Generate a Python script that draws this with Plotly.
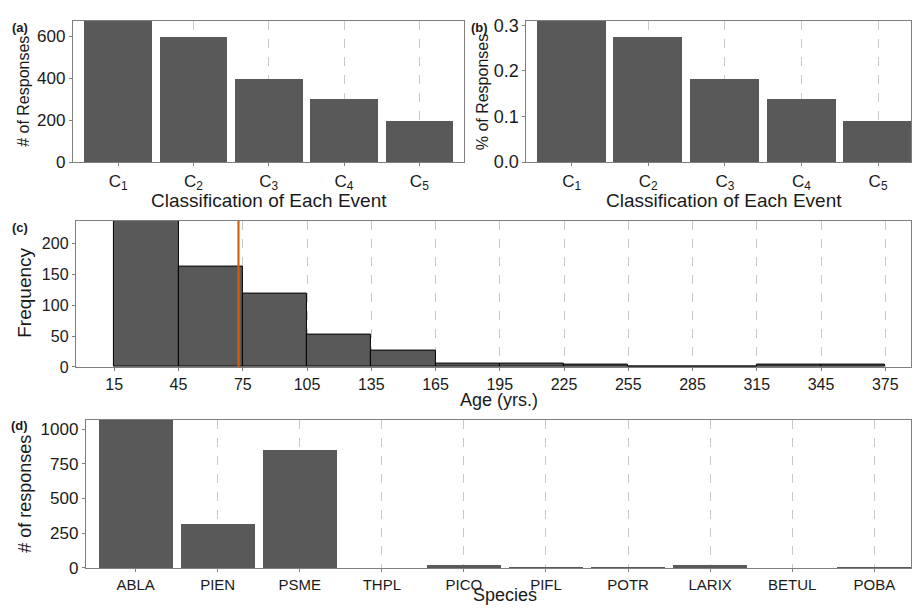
import plotly.graph_objects as go

# ---------------- data ----------------
classes = ["C1", "C2", "C3", "C4", "C5"]
class_labels = ["C<sub>1</sub>", "C<sub>2</sub>", "C<sub>3</sub>", "C<sub>4</sub>", "C<sub>5</sub>"]
class_counts = [676, 600, 400, 302, 200]
class_share = [0.3104, 0.2755, 0.1837, 0.1387, 0.0918]

age_bin_start = [15, 45, 75, 105, 135, 165, 195, 225, 255, 285, 315, 345]
age_bin_width = 30
age_counts = [237, 162, 118, 52, 27, 6, 6, 4, 0, 0, 4, 4]
age_ticks = [15, 45, 75, 105, 135, 165, 195, 225, 255, 285, 315, 345, 375]
mean_age = 73

species = ["ABLA", "PIEN", "PSME", "THPL", "PICO", "PIFL", "POTR", "LARIX", "BETUL", "POBA"]
species_counts = [1068, 316, 850, 2, 21, 6, 5, 21, 1, 5]

# ---------------- layout helpers ----------------
W, H = 912, 613
def fx(p):
    return p / W
def fy(p):
    return 1 - p / H

BAR = "#595959"
FRAME = "#7f7f7f"
GRID = "#c8c8c8"
FONT = "Liberation Sans, Arial, Helvetica, sans-serif"
TXT = "#1a1a1a"

fig = go.Figure()

fig.add_trace(go.Bar(x=classes, y=class_counts, marker=dict(color=BAR, line=dict(width=0)),
                     width=0.9, xaxis="x", yaxis="y", showlegend=False))
fig.add_trace(go.Bar(x=classes, y=class_share, marker=dict(color=BAR, line=dict(width=0)),
                     width=0.9, xaxis="x2", yaxis="y2", showlegend=False))
fig.add_trace(go.Bar(x=age_bin_start, y=age_counts, width=age_bin_width, offset=0,
                     marker=dict(color=BAR, line=dict(color="black", width=1)),
                     xaxis="x3", yaxis="y3", showlegend=False))
fig.add_trace(go.Scatter(x=[mean_age, mean_age], y=[0, max(age_counts)], mode="lines",
                         line=dict(color="#d2600a", width=2.2), xaxis="x3", yaxis="y3",
                         showlegend=False, hoverinfo="skip"))
fig.add_trace(go.Bar(x=species, y=species_counts, marker=dict(color=BAR, line=dict(width=0)),
                     width=0.9, xaxis="x4", yaxis="y4", showlegend=False))

def xax(domain, rng, size, anchor, **kw):
    d = dict(domain=domain, range=rng, anchor=anchor, showline=True, mirror=True,
             linecolor=FRAME, linewidth=1.3, showgrid=True, gridcolor=GRID, griddash="dash",
             gridwidth=1, ticks="outside", ticklen=3, tickcolor=FRAME, zeroline=False,
             tickfont=dict(family=FONT, size=size, color=TXT))
    d.update(kw)
    return d

def yax(domain, rng, size, anchor, **kw):
    d = dict(domain=domain, range=rng, anchor=anchor, showline=True, mirror=True,
             linecolor=FRAME, linewidth=1.3, showgrid=False, ticks="outside", ticklen=3,
             tickcolor=FRAME, zeroline=False,
             tickfont=dict(family=FONT, size=size, color=TXT))
    d.update(kw)
    return d

fig.update_layout(
    width=W, height=H, margin=dict(l=0, r=0, t=0, b=0),
    paper_bgcolor="white", plot_bgcolor="white", bargap=0,
    xaxis=xax([fx(73), fx(465)], [-0.6, 4.6], 17, "y", type="category",
              tickmode="array", tickvals=classes, ticktext=class_labels),
    yaxis=yax([fy(161), fy(16)], [0, 676], 17, "x", tickvals=[0, 200, 400, 600]),
    xaxis2=xax([fx(527), 1.0], [-0.59, 4.43], 17, "y2", type="category",
               tickmode="array", tickvals=classes, ticktext=class_labels),
    yaxis2=yax([fy(161), fy(16)], [0, 0.3104], 18, "x2", tickvals=[0, 0.1, 0.2, 0.3],
               tickformat=".1f"),
    xaxis3=xax([fx(76), 1.0], [-2.9, 387], 16, "y3", tickvals=age_ticks),
    yaxis3=yax([fy(371), fy(221)], [0, 237], 16, "x3", tickvals=[0, 50, 100, 150, 200]),
    xaxis4=xax([fx(86), 1.0], [-0.605, 9.447], 15, "y4", type="category",
               categoryorder="array", categoryarray=species),
    yaxis4=yax([fy(577), fy(425)], [0, 1068], 17, "x4", tickvals=[0, 250, 500, 750, 1000]),
)

def ann(text, x, y, size, bold=False, angle=0):
    fig.add_annotation(text=f"<b>{text}</b>" if bold else text, x=fx(x), y=fy(y),
                       xref="paper", yref="paper", showarrow=False, textangle=angle,
                       xanchor="center", yanchor="middle",
                       font=dict(family=FONT, size=size, color=TXT))

ann("(a)", 20, 23, 13, bold=True)
ann("(b)", 480, 23, 13, bold=True)
ann("(c)", 20, 228, 13, bold=True)
ann("(d)", 20, 431, 13, bold=True)

ann("# of Responses", 24, 88, 16, angle=-90)
ann("% of Responses", 483, 89, 16, angle=-90)
ann("Frequency", 25, 295, 19, angle=-90)
ann("# of responses", 25, 501, 18, angle=-90)

ann("Classification of Each Event", 269, 200, 19)
ann("Classification of Each Event", 725, 200, 19)
ann("Age (yrs.)", 500, 405, 18)
ann("Species", 506, 605, 18)

fig.write_html(
    "out.html",
    config={"displayModeBar": False},
    post_script="document.body.style.margin='0';document.body.style.overflow='hidden';",
)
